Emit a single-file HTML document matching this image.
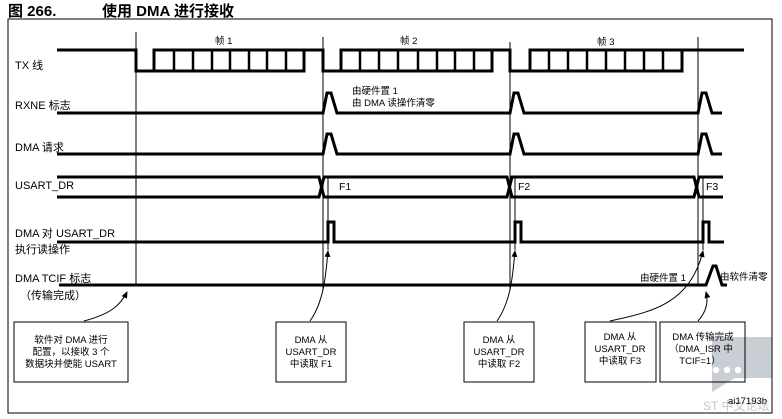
<!DOCTYPE html>
<html><head><meta charset="utf-8"><style>
html,body{margin:0;padding:0;background:#fff;}
svg{display:block;font-family:"Liberation Sans","Noto Sans CJK SC",sans-serif;}
</style></head><body>
<svg width="782" height="419" viewBox="0 0 782 419" xmlns="http://www.w3.org/2000/svg">
<defs><marker id="ah" markerWidth="8" markerHeight="8" refX="6" refY="3" orient="auto" markerUnits="userSpaceOnUse"><path d="M0,0 L7,3 L0,6 z" fill="#000"/></marker></defs>
<path d="M712,337 L772,337 L772,378 L735,378 L712,392 Z" fill="#c9ced4"/>
<circle cx="716" cy="370" r="3.2" fill="#fff"/><circle cx="727" cy="370" r="3.2" fill="#fff"/><circle cx="738" cy="370" r="3.2" fill="#fff"/>
<text x="703" y="410" font-size="12" fill="#c2c7cc">ST 中文论坛</text>
<text x="8" y="16" font-size="15" font-weight="bold">图 266.</text>
<text x="102" y="16" font-size="15" font-weight="bold">使用 DMA 进行接收</text>
<rect x="8" y="19" width="764" height="394" fill="none" stroke="#000" stroke-width="1"/>
<g stroke="#000" stroke-width="1" fill="none">
<line x1="136" y1="32" x2="136" y2="284"/>
<line x1="323" y1="37" x2="323" y2="290"/>
<line x1="328" y1="176" x2="328" y2="250"/>
<line x1="510" y1="42" x2="510" y2="290"/>
<line x1="515" y1="176" x2="515" y2="250"/>
<line x1="698" y1="37" x2="698" y2="284"/>
<line x1="703" y1="176" x2="703" y2="250"/>
</g>
<g stroke="#000" stroke-width="3" fill="none" stroke-linejoin="miter">
<polyline points="57,50 136,50 136,71 154,71 154,50 323,50 323,71 341,71 341,50 510,50 510,71 530,71 530,50 744,50"/>
<polyline points="154,71 304,71 304,50"/>
<polyline points="341,71 492,71 492,50"/>
<polyline points="530,71 682,71 682,50"/>
</g>
<g stroke="#000" stroke-width="2.5">
<line x1="174" y1="50" x2="174" y2="71"/><line x1="193" y1="50" x2="193" y2="71"/><line x1="212" y1="50" x2="212" y2="71"/><line x1="230" y1="50" x2="230" y2="71"/><line x1="249" y1="50" x2="249" y2="71"/><line x1="267" y1="50" x2="267" y2="71"/><line x1="286" y1="50" x2="286" y2="71"/>
<line x1="360" y1="50" x2="360" y2="71"/><line x1="379" y1="50" x2="379" y2="71"/><line x1="398" y1="50" x2="398" y2="71"/><line x1="418" y1="50" x2="418" y2="71"/><line x1="437" y1="50" x2="437" y2="71"/><line x1="455" y1="50" x2="455" y2="71"/><line x1="474" y1="50" x2="474" y2="71"/>
<line x1="549" y1="50" x2="549" y2="71"/><line x1="568" y1="50" x2="568" y2="71"/><line x1="587" y1="50" x2="587" y2="71"/><line x1="606" y1="50" x2="606" y2="71"/><line x1="625" y1="50" x2="625" y2="71"/><line x1="644" y1="50" x2="644" y2="71"/><line x1="663" y1="50" x2="663" y2="71"/>
</g>
<g stroke="#000" stroke-width="3" fill="none">
<polyline points="57,113 323,113 327,93 331,93 337,113 510,113 514,93 518,93 524,113 698,113 702,93 706,93 712,113 722,113"/>
<polyline points="57,154 323,154 327,134 331,134 337,154 510,154 514,134 518,134 524,154 698,154 702,134 706,134 712,154 722,154"/>
<polyline points="57,177 319,177 324,197 507,197 512,177 694,177 699,197 723,197"/>
<polyline points="57,197 319,197 324,177 507,177 512,197 694,197 699,177 723,177"/>
<polyline points="57,242 328,242 328,222 334,222 334,242 515,242 515,222 521,222 521,242 703,242 703,222 709,222 709,242 724,242"/>
<polyline points="59,285 706,285 713,266 716,266 722,285 727,285"/>
</g>
<g font-size="11" fill="#000">
<text x="15" y="69">TX 线</text>
<text x="15" y="109">RXNE 标志</text>
<text x="15" y="151">DMA 请求</text>
<text x="15" y="189">USART_DR</text>
<text x="15" y="237">DMA 对 USART_DR</text>
<text x="15" y="253">执行读操作</text>
<text x="15" y="282">DMA TCIF 标志</text>
<text x="20" y="299">（传输完成）</text>
</g>
<g font-size="9.5" fill="#000">
<text x="215" y="44">帧 1</text>
<text x="400" y="44">帧 2</text>
<text x="597" y="45">帧 3</text>
<text x="352" y="94">由硬件置 1</text>
<text x="352" y="106">由 DMA 读操作清零</text>
<text x="640" y="281">由硬件置 1</text>
<text x="720" y="280">由软件清零</text>
</g>
<g font-size="10.5"><text x="339" y="190">F1</text><text x="518" y="190">F2</text><text x="706" y="190">F3</text></g>
<g fill="none" stroke="#000" stroke-width="1">
<rect x="14" y="322" width="114" height="60"/>
<rect x="276" y="322" width="70" height="60"/>
<rect x="464" y="322" width="70" height="60"/>
<rect x="585" y="322" width="71" height="60"/>
<rect x="660" y="322" width="85" height="60"/>
<path d="M84,321 C110,314 120,306 127,292" marker-end="url(#ah)"/>
<path d="M310,321 C325,300 326,270 328,251" marker-end="url(#ah)"/>
<path d="M497,321 C512,300 513,270 515,251" marker-end="url(#ah)"/>
<path d="M610,321 C650,312 690,305 703,251" marker-end="url(#ah)"/>
<path d="M698,321 C708,310 708,300 706,292" marker-end="url(#ah)"/>
</g>
<g font-size="9.5" text-anchor="middle" fill="#000">
<text x="71" y="343">软件对 DMA 进行</text>
<text x="71" y="355">配置，以接收 3 个</text>
<text x="71" y="367">数据块并使能 USART</text>
<text x="311" y="343">DMA 从</text><text x="311" y="355">USART_DR</text><text x="311" y="367">中读取 F1</text>
<text x="499" y="343">DMA 从</text><text x="499" y="355">USART_DR</text><text x="499" y="367">中读取 F2</text>
<text x="620" y="340">DMA 从</text><text x="620" y="352">USART_DR</text><text x="620" y="364">中读取 F3</text>
<text x="703" y="340">DMA 传输完成</text><text x="701" y="352">（DMA_ISR 中</text><text x="700" y="364">TCIF=1）</text>
</g>
<text x="728" y="404" font-size="9.5">ai17193b</text>
</svg>
</body></html>
